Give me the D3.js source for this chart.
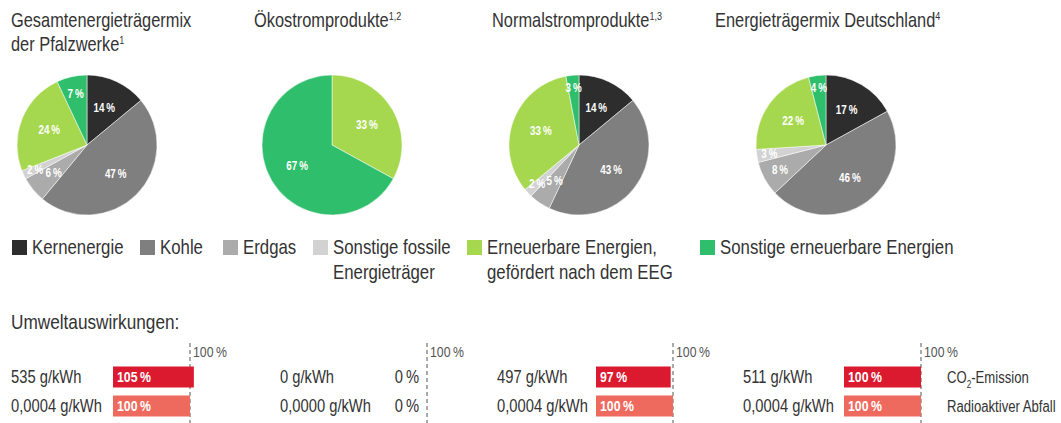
<!DOCTYPE html>
<html>
<head>
<meta charset="utf-8">
<script src="https://cdn.jsdelivr.net/npm/d3@7"></script>
<style>
  body { margin: 0; background: #fff; }
  svg { display: block; font-family: "Liberation Sans", Arial, sans-serif; }
</style>
</head>
<body>
<svg id="chart"></svg>
<script>
// categories (slice order clockwise from 12 o'clock)
var categories = ["Kernenergie", "Kohle", "Erdgas", "Sonstige fossile Energieträger",
                  "Erneuerbare Energien, gefördert nach dem EEG", "Sonstige erneuerbare Energien"];
var legendLines = [["Kernenergie"], ["Kohle"], ["Erdgas"], ["Sonstige fossile", "Energieträger"],
                   ["Erneuerbare Energien,", "gefördert nach dem EEG"], ["Sonstige erneuerbare Energien"]];
var colors = ["#2d2d2d", "#7f7f7f", "#ababab", "#d2d2d2", "#a6d84f", "#2fbe6b"];

// pie titles: [text, superscript]
var pieTitles = [
  [["Gesamtenergieträgermix", ""], ["der Pfalzwerke", "1"]],
  [["Ökostromprodukte", "1,2"]],
  [["Normalstromprodukte", "1,3"]],
  [["Energieträgermix Deutschland", "4"]]
];
var gesamtMix  = [14, 47, 6, 2, 24, 7];
var oekoMix    = [0, 0, 0, 0, 33, 67];
var normalMix  = [14, 43, 5, 2, 33, 3];
var deutschMix = [17, 46, 8, 3, 22, 4];
var mixes = [gesamtMix, oekoMix, normalMix, deutschMix];

// Umweltauswirkungen
var co2Text   = ["535 g/kWh", "0 g/kWh", "497 g/kWh", "511 g/kWh"];
var co2Pct    = [105, 0, 97, 100];
var wasteText = ["0,0004 g/kWh", "0,0000 g/kWh", "0,0004 g/kWh", "0,0004 g/kWh"];
var wastePct  = [100, 0, 100, 100];
var rowColors = ["#dc1a2f", "#ef6a5e"];

var width = 1061, height = 423;
var svg = d3.select("#chart").attr("width", width).attr("height", height);

// layout
var titleX = [11, 254, 492, 715];
var pieCx = [87, 332, 579, 826];
var pieCy = 145, R = 70;
var textX = [11, 280, 497, 743];
var barX = [113, 350, 596, 844];
var legendX = [12, 140, 223, 313, 467, 700];
var ink = "#333";
var thin = "\u2009";
var narrow = 0.82; // condensed look

// text squeezed horizontally around its anchor point
function ntext(parent, x, y, size) {
  return parent.append("text")
      .attr("transform", "translate(" + x + "," + y + ") scale(" + narrow + ",1)")
      .style("font-size", size + "px");
}

// how far out a slice label sits (small slices pushed to the rim)
function labelRadius(v) {
  if (v <= 4) return 0.82;
  if (v <= 6) return 0.62;
  if (v < 10) return 0.75;
  return 0.58;
}

var pie = d3.pie().sort(null).value(d => d);
var arc = d3.arc().innerRadius(0).outerRadius(R);

mixes.forEach(function(mix, i){
  // title
  var t = ntext(svg, titleX[i], 27, 20).attr("fill", ink);
  pieTitles[i].forEach(function(line, j){
    t.append("tspan").attr("x", 0).attr("y", j * 24).text(line[0]);
    if (line[1]) t.append("tspan").attr("dy", -7).style("font-size", "11px").text(line[1]);
  });

  var g = svg.append("g").attr("transform", "translate(" + pieCx[i] + "," + pieCy + ")");
  var arcs = pie(mix).filter(d => d.value > 0);
  g.selectAll("path").data(arcs).enter().append("path")
      .attr("d", arc)
      .attr("fill", d => colors[d.index])
      .attr("stroke", "#fff").attr("stroke-width", 0.5);
  arcs.forEach(function(d){
    var k = labelRadius(d.value);
    var a = (d.startAngle + d.endAngle) / 2;
    ntext(g, Math.sin(a) * R * k, -Math.cos(a) * R * k, 12)
        .attr("text-anchor", "middle").attr("dy", "0.35em")
        .attr("fill", "#fff").style("font-weight", "bold")
        .text(d.value + thin + "%");
  });
});

// legend
legendLines.forEach(function(lines, i){
  svg.append("rect").attr("x", legendX[i]).attr("y", 240).attr("width", 15).attr("height", 15)
      .attr("fill", colors[i]);
  var t = ntext(svg, legendX[i] + 20, 254, 20.5).attr("fill", ink);
  lines.forEach(function(l, j){
    t.append("tspan").attr("x", 0).attr("y", j * 25).text(l);
  });
});

// Umweltauswirkungen
ntext(svg, 11, 329, 21).attr("fill", ink).text("Umweltauswirkungen:");

var xBar = d3.scaleLinear().domain([0, 100]).range([0, 77]);
var rows = [[co2Text, co2Pct], [wasteText, wastePct]];
var rowY = [377, 406], barH = 21;

barX.forEach(function(bx, i){
  var x100 = bx + xBar(100);
  svg.append("line").attr("x1", x100).attr("x2", x100).attr("y1", 343).attr("y2", height)
      .attr("stroke", "#555").attr("stroke-width", 1).attr("stroke-dasharray", "4,3");
  ntext(svg, x100 + 3, 357, 15).attr("fill", "#555").text("100" + thin + "%");

  rows.forEach(function(row, r){
    var v = row[1][i];
    ntext(svg, textX[i], rowY[r], 18).attr("dy", "0.35em").attr("fill", ink).text(row[0][i]);
    if (v > 0) {
      svg.append("rect").attr("x", bx).attr("y", rowY[r] - barH / 2)
          .attr("width", xBar(v)).attr("height", barH).attr("fill", rowColors[r]);
      ntext(svg, bx + 4, rowY[r], 15).attr("dy", "0.36em")
          .attr("fill", "#fff").style("font-weight", "bold")
          .text(v + thin + "%");
    } else {
      ntext(svg, x100 - 8, rowY[r], 18).attr("dy", "0.35em")
          .attr("text-anchor", "end").attr("fill", ink)
          .text(v + thin + "%");
    }
  });
});

// row names
var co2 = ntext(svg, 947, rowY[0], 16).attr("dy", "0.35em").attr("fill", ink);
co2.append("tspan").text("CO");
co2.append("tspan").attr("dy", 5).style("font-size", "10px").text("2");
co2.append("tspan").attr("dy", -5).text("-Emission");
ntext(svg, 947, rowY[1], 16).attr("dy", "0.35em").attr("fill", ink).text("Radioaktiver Abfall");
</script>
</body>
</html>
